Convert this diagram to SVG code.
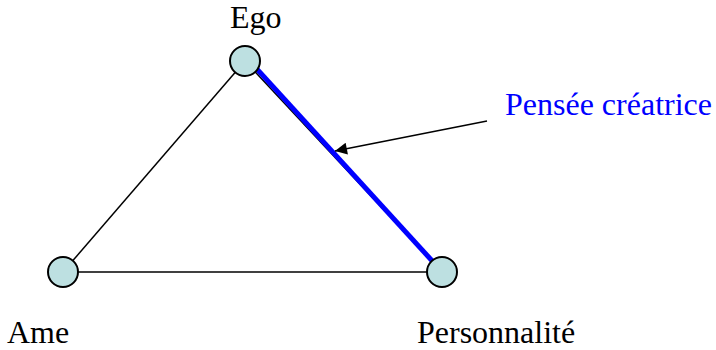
<svg xmlns="http://www.w3.org/2000/svg" width="716" height="350" viewBox="0 0 716 350">
<style>
.lbl{font-family:"Liberation Serif","Times New Roman",serif;font-size:32px;fill:#000}
.blue{fill:#0000ff}
.node{fill:#bde0e1;stroke:#000;stroke-width:2}
.edge{stroke:#000;stroke-width:1.5;fill:none}
</style>
<defs>
<marker id="ah" viewBox="0 0 10 10" refX="10" refY="5" markerWidth="17" markerHeight="12" markerUnits="userSpaceOnUse" orient="auto">
<path d="M0,0 L10,5 L0,10 z" fill="#000"/>
</marker>
</defs>
<g id="connectors">
<line class="edge" x1="245" y1="61" x2="63" y2="272"/>
<line class="edge" x1="63" y1="272" x2="442" y2="272"/>
<line class="edge" x1="245" y1="61" x2="442" y2="272"/>
<line x1="255" y1="67" x2="435" y2="264" stroke="#0000ff" stroke-width="5"/>
<line class="edge" x1="487" y1="121" x2="335" y2="151" marker-end="url(#ah)"/>
</g>
<g id="ego">
<circle class="node" cx="245" cy="61" r="15"/>
<text class="lbl" x="230" y="28">Ego</text>
</g>
<g id="ame">
<circle class="node" cx="63" cy="272" r="15"/>
<text class="lbl" x="7" y="343">Ame</text>
</g>
<g id="personnalite">
<circle class="node" cx="442" cy="272" r="15"/>
<text class="lbl" x="417" y="343">Personnalité</text>
</g>
<g id="pensee">
<text class="lbl blue" x="505" y="115">Pensée créatrice</text>
</g>
</svg>
